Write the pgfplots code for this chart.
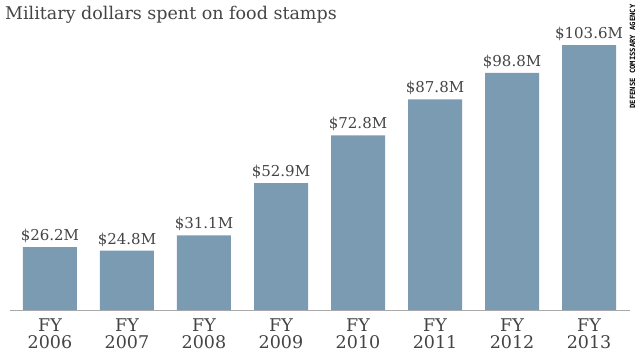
\documentclass[border=0pt]{standalone}
\usepackage{pgfplots}
\pgfplotsset{compat=1.18}
\usepackage{fontspec}
\setmainfont{DejaVu Serif}
\newfontfamily\srcfont{DejaVu Sans Mono}
\definecolor{barblue}{HTML}{7B9BB3}
\definecolor{txt}{HTML}{444444}
\definecolor{axgray}{HTML}{AAAAAA}
\begin{document}
\begin{tikzpicture}[x=1bp,y=1bp]
\path[use as bounding box] (-10,-50) rectangle (630,310);
\begin{axis}[
  at={(0,0)}, anchor=south west,
  scale only axis, width=620bp, height=280bp,
  xmin=-0.519, xmax=7.532, ymin=0, ymax=116.7,
  axis y line=none, axis x line*=bottom,
  x axis line style={-, draw=axgray, line width=1bp},
  xtick={0,1,2,3,4,5,6,7},
  xticklabels={{FY\\2006},{FY\\2007},{FY\\2008},{FY\\2009},{FY\\2010},{FY\\2011},{FY\\2012},{FY\\2013}},
  major tick length=0pt,
  xticklabel style={align=center, text=txt, font=\fontsize{17.5bp}{16.5bp}\selectfont, anchor=north, yshift=-5.5bp},
  ytick=\empty,
  clip=false,
]
\addplot[ybar, bar width=54bp, fill=barblue, draw=none,
  point meta=explicit symbolic,
  nodes near coords={\$\pgfplotspointmeta M},
  nodes near coords style={anchor=base, yshift=6.5bp, text=txt, font=\fontsize{15bp}{15bp}\selectfont},
] table[x=x, y=y, meta=label] {
x y label
0 26.2 26.2
1 24.8 24.8
2 31.1 31.1
3 52.9 52.9
4 72.8 72.8
5 87.8 87.8
6 98.8 98.8
7 110.4 103.6
};
\end{axis}
\node[anchor=base west, text=txt, font=\fontsize{17.5bp}{17.5bp}\selectfont, inner sep=0pt] at (-5,291) {Military dollars spent on food stamps};
\node[rotate=90, anchor=center, inner sep=0pt, font=\srcfont\bfseries\fontsize{7.2bp}{7.2bp}\selectfont] at (622.5,253.5) {DEFENSE COMISSARY AGENCY};
\end{tikzpicture}
\end{document}
